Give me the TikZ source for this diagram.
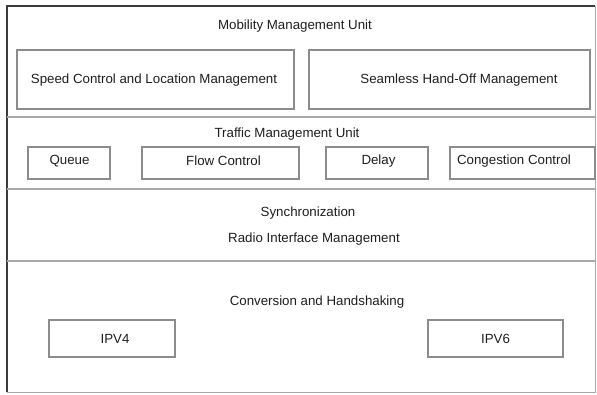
\documentclass[tikz,border=0pt]{standalone}
\usepackage{fontspec}
\setmainfont{Liberation Sans}
\usetikzlibrary{positioning}

\definecolor{txtgray}{HTML}{1E1E1E}
\definecolor{boxgray}{HTML}{8C8C8C}
\definecolor{rulegray}{HTML}{A8A8A8}
\definecolor{framegray}{HTML}{3C3C3C}

\begin{document}
\begin{tikzpicture}[x=1pt, y=-1pt,
    unitbox/.style={draw=boxgray, line width=1.2pt, inner sep=0pt},
    lbl/.style={text=txtgray, font=\fontsize{13.3}{16}\selectfont, inner sep=0pt, yshift=-2pt}]
    \useasboundingbox (0,0) rectangle (597,394);

    % Corners of the outer frame
    \coordinate (TL) at (7,6);
    \coordinate (TR) at (595,6);
    \coordinate (BL) at (7,392);
    \coordinate (BR) at (595,392);

    % Outer frame - light on the right and bottom, dark on the left and top
    \draw[rulegray, line width=1pt] (TR) -- (BR) -- (BL);
    \draw[framegray, line width=2.2pt] (BL) -- (TL) -- (TR);

    % Dividers between the layers
    \draw[rulegray, line width=1.8pt] (7,117) coordinate (d1a) -- (595,117) coordinate (d1b);
    \draw[rulegray, line width=1.8pt] (7,189) coordinate (d2a) -- (595,189) coordinate (d2b);
    \draw[rulegray, line width=1.8pt] (7,261) coordinate (d3a) -- (595,261) coordinate (d3b);

    % Mobility layer
    \node[lbl] (mobility) at (295,24) {Mobility Management Unit};
    \node[unitbox, minimum width=277pt, minimum height=59pt] (speed) at (155.5,79.5) {};
    \node[lbl] (speedtxt) at (154,78) {Speed Control and Location Management};
    \node[unitbox, minimum width=281pt, minimum height=59pt] (seamless) at (449.5,79.5) {};
    \node[lbl] (seamlesstxt) at (459,78) {Seamless Hand-Off Management};

    % Traffic layer
    \node[lbl] (traffic) at (287,132) {Traffic Management Unit};
    \node[unitbox, minimum width=82pt, minimum height=32pt] (queue) at (69,163) {};
    \node[lbl] (queuetxt) at (69.5,159) {Queue};
    \node[unitbox, minimum width=157pt, minimum height=32pt] (flow) at (220.5,163) {};
    \node[lbl] (flowtxt) at (223.5,159) {Flow Control};
    \node[unitbox, minimum width=102pt, minimum height=32pt] (delay) at (377,163) {};
    \node[lbl] (delaytxt) at (378.5,159) {Delay};
    \node[unitbox, minimum width=145pt, minimum height=32pt] (congestion) at (522.5,163) {};
    \node[lbl] (congestiontxt) at (514,159) {Congestion Control};

    % Radio layer
    \node[lbl] (sync) at (308,211) {Synchronization};
    \node[lbl] (radio) at (314,237) {Radio Interface Management};

    % Conversion layer
    \node[lbl] (conversion) at (317,300) {Conversion and Handshaking};
    \node[unitbox, minimum width=126pt, minimum height=37pt] (ipv4) at (112,338.5) {};
    \node[lbl] (ipv4txt) at (115,337) {IPV4};
    \node[unitbox, minimum width=135pt, minimum height=37pt] (ipv6) at (495.5,338.5) {};
    \node[lbl] (ipv6txt) at (495.5,337) {IPV6};
\end{tikzpicture}
\end{document}
